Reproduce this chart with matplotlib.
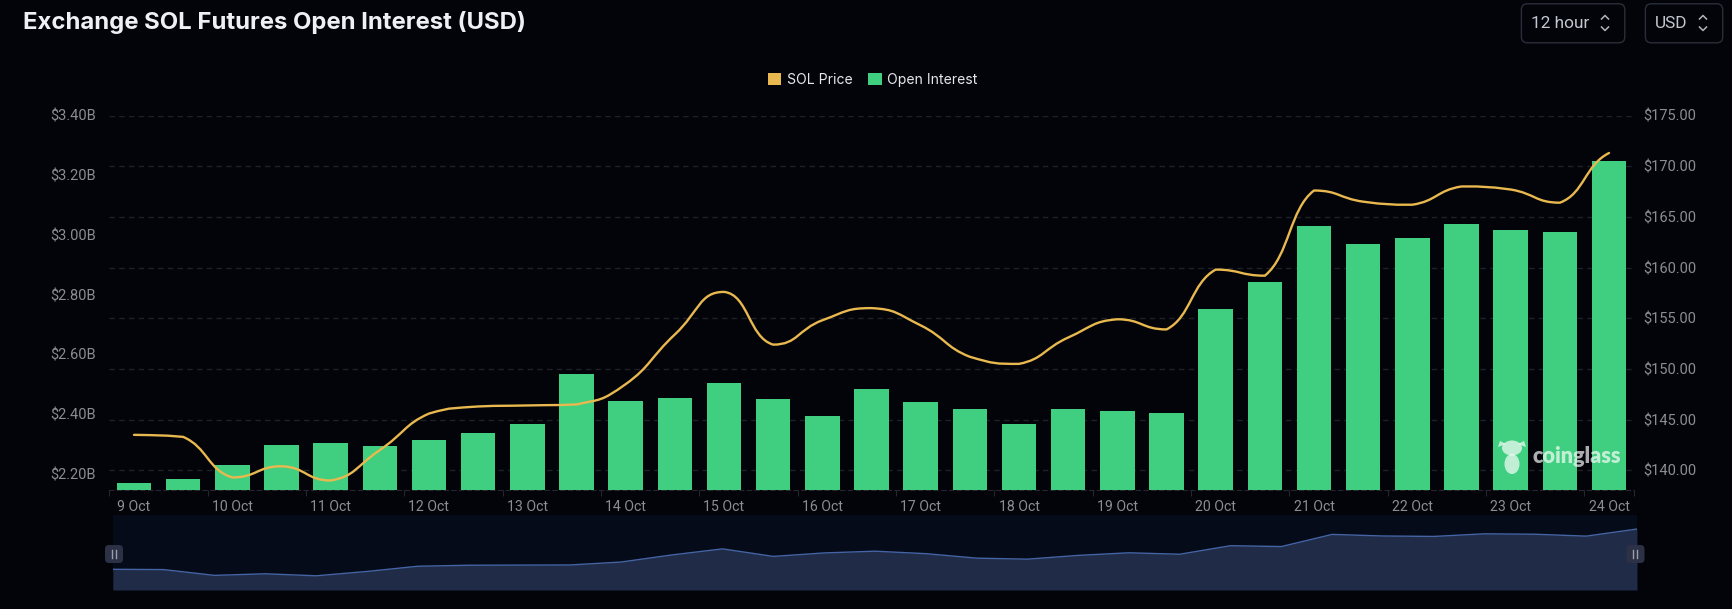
import numpy as np
import matplotlib
matplotlib.use("Agg")
import matplotlib.pyplot as plt
from matplotlib.path import Path
from matplotlib.patches import PathPatch, FancyBboxPatch, Rectangle, Ellipse, Polygon

W, H = 1733, 609
BG = "#02040a"
GREEN = "#40cf80"
GOLD = "#e9b84e"
TICK = "#8b8d90"
GRID = "#1e2127"

open_interest = [2.168, 2.181, 2.228, 2.298, 2.302, 2.293, 2.313, 2.335, 2.365, 2.534, 2.443,
                 2.453, 2.505, 2.449, 2.394, 2.483, 2.439, 2.416, 2.366, 2.416, 2.409, 2.403,
                 2.753, 2.843, 3.031, 2.969, 2.991, 3.037, 3.017, 3.009, 3.249]
sol_price = [143.5, 143.3, 139.3, 140.4, 139.0, 142.0, 145.6, 146.3, 146.4, 146.5, 148.5,
             153.4, 157.6, 152.4, 154.8, 156.0, 154.3, 151.2, 150.5, 153.1, 154.9, 153.9,
             159.8, 159.2, 167.6, 166.5, 166.2, 168.0, 167.7, 166.4, 171.3]
date_labels = ["9 Oct", "10 Oct", "11 Oct", "12 Oct", "13 Oct", "14 Oct", "15 Oct", "16 Oct",
               "17 Oct", "18 Oct", "19 Oct", "20 Oct", "21 Oct", "22 Oct", "23 Oct", "24 Oct"]
oi_ticks = [2.2, 2.4, 2.6, 2.8, 3.0, 3.2, 3.4]
price_ticks = [140, 145, 150, 155, 160, 165, 170, 175]

plt.rcParams["font.family"] = ["Roboto", "DejaVu Sans"]


def smooth_path(xs, ys, smooth=0.5):
    # bezier through the points, handles kept inside each segment's range
    verts = [(xs[0], ys[0])]
    codes = [Path.MOVETO]
    n = len(xs)
    for i in range(n - 1):
        prev_y = ys[max(i - 1, 0)]
        next_y = ys[min(i + 2, n - 1)]
        dx = (xs[i + 1] - xs[i]) * smooth
        c1 = ys[i] + (ys[i + 1] - prev_y) * smooth / 2
        c2 = ys[i + 1] - (next_y - ys[i]) * smooth / 2
        lo, hi = min(ys[i], ys[i + 1]), max(ys[i], ys[i + 1])
        c1 = min(max(c1, lo), hi)
        c2 = min(max(c2, lo), hi)
        verts += [(xs[i] + dx, c1), (xs[i + 1] - dx, c2), (xs[i + 1], ys[i + 1])]
        codes += [Path.CURVE4] * 3
    return Path(verts, codes)


def px_rect(x0, y0, x1, y1):
    return [x0 / W, 1 - y1 / H, (x1 - x0) / W, (y1 - y0) / H]


fig = plt.figure(figsize=(W / 100, H / 100), dpi=100, facecolor=BG)
rect = px_rect(109.4, 115.5, 1633.6, 490)
xs = np.arange(len(open_interest))

# grid and right axis live underneath the bars
ax_grid = fig.add_axes(rect, facecolor=BG)
ax_grid.set_xlim(-0.5, 30.5)
ax_grid.set_ylim(138.06, 175)
ax_grid.set_yticks(price_ticks, ["$%.2f" % p for p in price_ticks])
ax_grid.grid(axis="y", color=GRID, lw=1, ls=(0, (4, 3)))
ax_grid.set_axisbelow(True)
ax_grid.set_xticks(np.arange(-0.5, 30.6, 2).tolist() + [30.5], [""] * 17)
ax_grid.set_xticks(xs[::2], date_labels, minor=True)
ax_grid.tick_params(axis="x", which="major", length=4.2, width=0.8, color="#24272d")
ax_grid.tick_params(axis="x", which="minor", length=0, pad=7.5, labelsize=10.2, labelcolor=TICK)
for s in ["top", "left", "right"]:
    ax_grid.spines[s].set_visible(False)
ax_grid.spines["bottom"].set_color("#24272d")
ax_grid.spines["bottom"].set_linestyle((0, (4, 3)))

ax_bars = ax_grid.twinx()
ax_bars.patch.set_visible(False)
bars = ax_bars.bar(xs, open_interest, width=0.7, color=GREEN, label="Open Interest")
ax_bars.set_ylim(2.1456, 3.395)
ax_bars.yaxis.tick_left()
ax_bars.set_yticks(oi_ticks, ["$%.2fB" % v for v in oi_ticks])
ax_bars.tick_params(axis="y", length=0, pad=9.5, labelsize=10.5, labelcolor=TICK)
for s in ax_bars.spines.values():
    s.set_visible(False)

ax_line = ax_grid.twinx()
ax_line.patch.set_visible(False)
ax_line.set_ylim(138.06, 175)
ax_line.set_yticks([])
for s in ax_line.spines.values():
    s.set_visible(False)
ax_line.add_patch(PathPatch(smooth_path(xs, sol_price), fc="none", ec=GOLD, lw=1.7, capstyle="round"))

# twinx moved these to the left, put them back on the right
ax_grid.yaxis.tick_right()
ax_grid.tick_params(axis="y", length=0, pad=7, labelsize=10.5, labelcolor=TICK)

# range slider under the chart
ax_mini = fig.add_axes(px_rect(112.9, 515, 1637, 590), facecolor="#060b1a")
ax_mini.fill_between(xs, sol_price, 129.2, color="#202b47", lw=0)
ax_mini.plot(xs, sol_price, color="#4464a4", lw=1)
ax_mini.set_xlim(0, 30)
ax_mini.set_ylim(129.2, 181)
ax_mini.set_xticks([])
ax_mini.set_yticks([])
for s in ax_mini.spines.values():
    s.set_visible(False)

# title, buttons, legend and watermark in pixel coordinates
ui = fig.add_axes([0, 0, 1, 1])
ui.set_xlim(0, W)
ui.set_ylim(H, 0)
ui.axis("off")
ui.patch.set_visible(False)

ui.text(23.5, 22, "Exchange SOL Futures Open Interest (USD)", family="Inter", weight="bold",
        fontsize=17.2, color="#eef0f5", va="center", ha="left")

for x0, x1, label, tx, cx in [(1521.4, 1624.8, "12 hour", 1531.5, 1605), (1645.4, 1722.7, "USD", 1655, 1703)]:
    ui.add_patch(FancyBboxPatch((x0 + 6, 3.8 + 6), x1 - x0 - 12, 39 - 12, boxstyle="round,pad=6",
                                fc="none", ec="#2a2e38", lw=1))
    ui.text(tx, 23, label, fontsize=12.4, color="#c3c7cf", va="center", ha="left")
    ui.plot([cx - 3.5, cx, cx + 3.5], [19, 15.5, 19], color="#b0b4bc", lw=1.1)
    ui.plot([cx - 3.5, cx, cx + 3.5], [27, 30.5, 27], color="#b0b4bc", lw=1.1)

for cx in [114, 1635.5]:
    ui.add_patch(FancyBboxPatch((cx - 5, 549), 10, 10, boxstyle="round,pad=4", fc="#2d3145", ec="none"))
    for dx in [-2, 2]:
        ui.plot([cx + dx, cx + dx], [550, 558], color="#9a9fb0", lw=1)

mark = "#ffffff"
ui.add_patch(Ellipse((1512, 448), 20, 15, fc=mark, ec="none", alpha=0.68))
ui.add_patch(Ellipse((1512, 464), 15, 20, fc=mark, ec="none", alpha=0.68))
ui.add_patch(Polygon([(1498, 447), (1500, 441), (1506, 444)], fc=mark, ec="none", alpha=0.68))
ui.add_patch(Polygon([(1526, 447), (1524, 441), (1518, 444)], fc=mark, ec="none", alpha=0.68))
ui.text(1533, 456.5, "coinglass", family="Lato", weight="heavy", fontsize=15.6, color=mark,
        alpha=0.68, va="center", ha="left")

handles = [Rectangle((0, 0), 1, 1, fc=GOLD), Rectangle((0, 0), 1, 1, fc=GREEN)]
fig.legend(handles, ["SOL Price", "Open Interest"], loc="center", bbox_to_anchor=(873 / W, 1 - 80 / H),
           ncol=2, frameon=False, labelcolor="#e5e7eb", prop={"family": "Inter", "size": 10.1},
           handlelength=0.94, handleheight=0.94, handletextpad=0.42, columnspacing=1.1,
           borderpad=0, borderaxespad=0)

fig.savefig("out.png", dpi=100, facecolor=BG)
